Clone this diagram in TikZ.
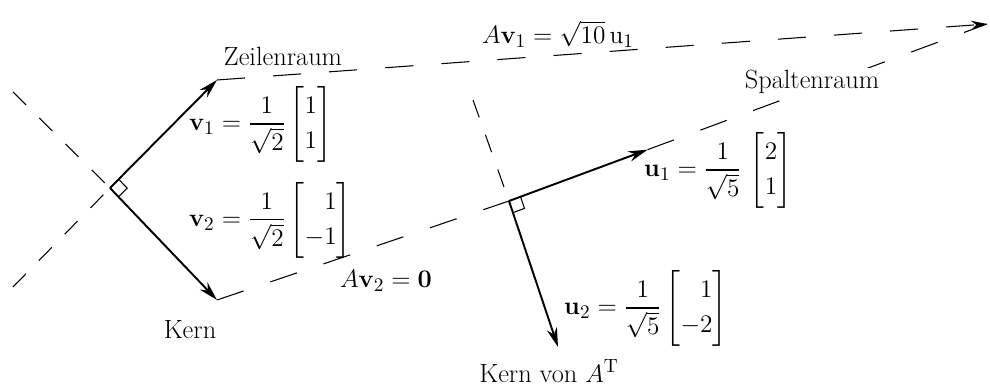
\documentclass[tikz,border=0pt]{standalone}
\usepackage{amsmath}
\usepackage{tikz}
\usetikzlibrary{arrows.meta}
\usetikzlibrary{calc}
\renewcommand{\arraystretch}{1.12}

\begin{document}
\begin{tikzpicture}[font=\fontsize{15}{18}\selectfont,
        vec/.style={line width=1.1pt, -{Stealth[length=11pt,width=6pt]}},
        guide/.style={line width=0.6pt, dash pattern=on 16pt off 16pt},
        shortguide/.style={line width=0.6pt, dash pattern=on 10.5pt off 10.5pt}]
        \useasboundingbox (0,0) rectangle (19.8,7.74);
        % left part: row space and kernel
        \coordinate (O1) at (2.2,3.98);
        \coordinate (V1) at (4.34,6.14);
        \coordinate (V2) at (4.34,1.74);
        \coordinate (K1) at (0.26,5.9);
        \coordinate (R1) at (0.26,2.0);
        % right part: column space and kernel of A^T
        \coordinate (O2) at (10.18,3.72);
        \coordinate (A1) at (19.74,7.26);
        \coordinate (U1) at ($(O2)!0.29!(A1)$);
        \coordinate (U2) at (11.16,0.8);
        \coordinate (K2) at (9.46,5.74);
        % dashed lines
        \draw[shortguide] (K1) -- (O1);
        \draw[shortguide] (R1) -- (O1);
        \draw[shortguide] (K2) -- (O2);
        \draw[guide] (V2) -- (O2);
        \draw[guide] (U1) -- (A1);
        \draw[guide, -{Stealth[length=9pt,width=5pt]}] (V1) -- (A1);
        % vectors
        \draw[vec] (O1) -- (V1);
        \draw[vec] (O1) -- (V2);
        \draw[vec] (O2) -- (U1);
        \draw[vec] (O2) -- (U2);
        % right angles
        \coordinate (p1) at ($(O1)!7pt!(V1)$);
        \coordinate (q1) at ($(O1)!7pt!(V2)$);
        \draw[line width=0.6pt] (p1) -- ($(p1)+(q1)-(O1)$) -- (q1);
        \coordinate (p2) at ($(O2)!7pt!(U1)$);
        \coordinate (q2) at ($(O2)!7pt!(U2)$);
        \draw[line width=0.6pt] (p2) -- ($(p2)+(q2)-(O2)$) -- (q2);
        % labels
        \node (zeile) at (5.66,6.62) {Zeilenraum};
        \node[anchor=west] (v1) at (3.66,5.26)
        {$\mathbf{v}_1=\dfrac{1}{\sqrt{2}}\begin{bmatrix}1\\1\end{bmatrix}$};
        \node[anchor=west] (v2) at (3.66,3.34)
        {$\mathbf{v}_2=\dfrac{1}{\sqrt{2}}\begin{bmatrix}\hphantom{-}1\\-1\end{bmatrix}$};
        \node (kern) at (3.8,1.14) {Kern};
        \node (av2) at (7.72,2.12) {$A\mathbf{v}_2=\mathbf{0}$};
        \node (av1) at (11.16,7.06) {$A\mathbf{v}_1=\sqrt{10}\,\mathrm{u}_1$};
        \node[fill=white, inner sep=1pt] (spalte) at (16.24,6.1) {Spaltenraum};
        \node[anchor=west] (u1) at (12.76,4.34)
        {$\mathbf{u}_1=\dfrac{1}{\sqrt{5}}\,\begin{bmatrix}2\\1\end{bmatrix}$};
        \node[anchor=west] (u2) at (11.16,1.58)
        {$\mathbf{u}_2=\dfrac{1}{\sqrt{5}}\begin{bmatrix}\hphantom{-}1\\-2\end{bmatrix}$};
        \node (kernat) at (10.98,0.32) {Kern von $A^{\mathrm{T}}$};
\end{tikzpicture}
\end{document}
